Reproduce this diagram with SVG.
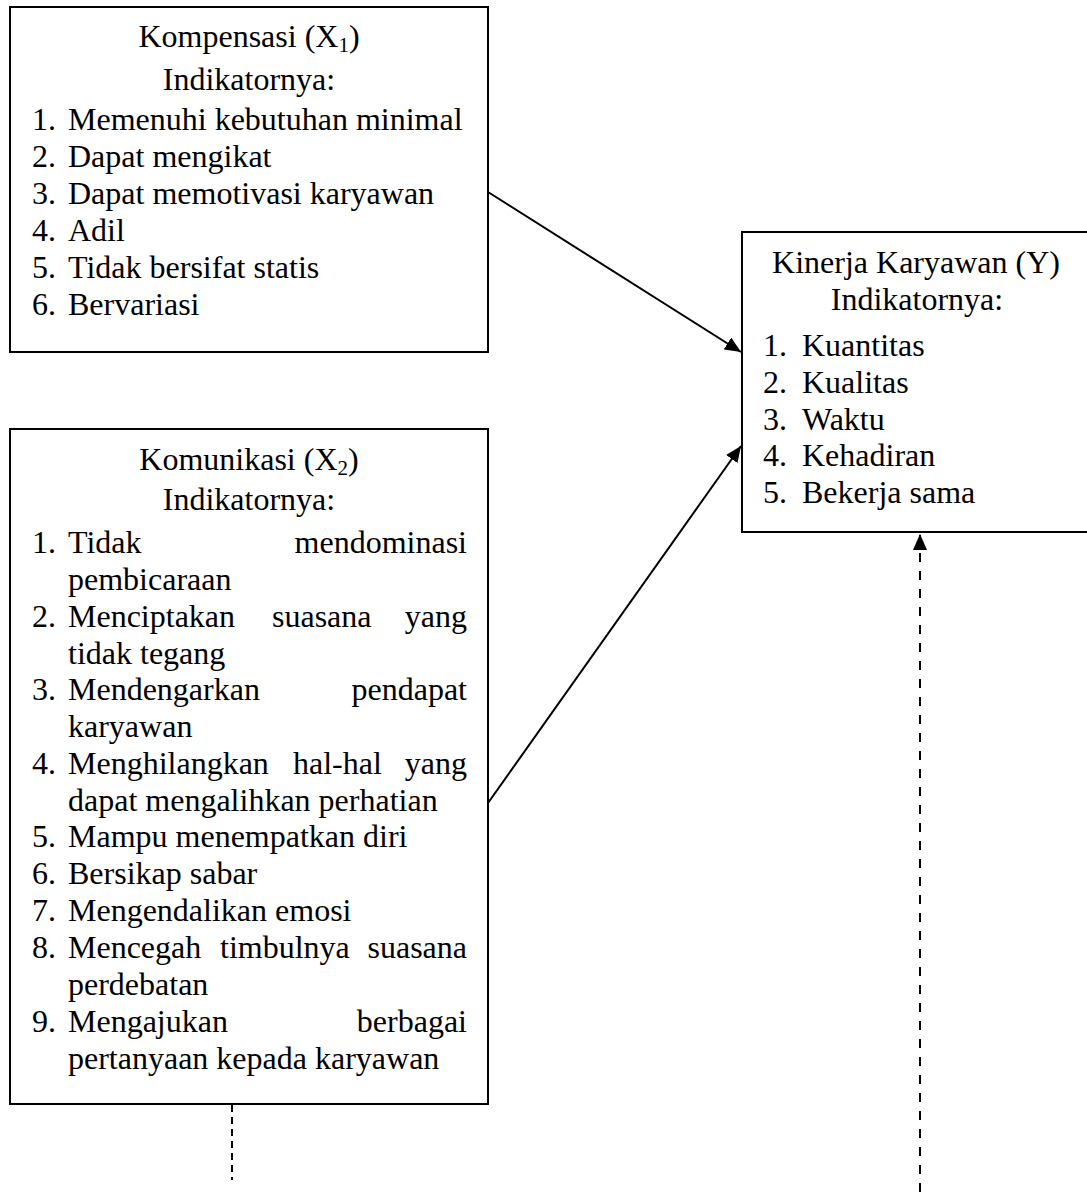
<svg xmlns="http://www.w3.org/2000/svg" width="1087" height="1192" viewBox="0 0 1087 1192">
<defs>
<style>
.box{fill:#fff;stroke:#000;stroke-width:2}
text{font-family:"Liberation Serif","Times New Roman",serif;font-size:32px;fill:#000}
.c{text-anchor:middle}
.e{text-anchor:end}
.sub{font-size:21px}
.conn{stroke:#000;stroke-width:2;fill:none}
</style>
<marker id="ah" markerWidth="16" markerHeight="14" refX="16" refY="7" orient="auto" markerUnits="userSpaceOnUse">
<path d="M0,0 L16,7 L0,14 Z" fill="#000"/>
</marker>
</defs>
<rect width="1087" height="1192" fill="#fff"/>

<g id="connectors">
<line class="conn" x1="488" y1="192" x2="741" y2="352" marker-end="url(#ah)"/>
<line class="conn" x1="488" y1="803" x2="741" y2="446" marker-end="url(#ah)"/>
<line class="conn" x1="920" y1="1192" x2="920" y2="534" stroke-dasharray="9 9" marker-end="url(#ah)"/>
<line class="conn" x1="232" y1="1105" x2="232" y2="1180" stroke-dasharray="7 5"/>
</g>

<g id="kompensasi">
<rect class="box" x="10" y="7" width="478" height="345"/>
<text class="c" x="249" y="47">Kompensasi (X<tspan class="sub" dy="5">1</tspan><tspan dy="-5">)</tspan></text>
<text class="c" x="249" y="90">Indikatornya:</text>
<text x="32" y="130">1.</text><text x="68" y="130">Memenuhi kebutuhan minimal</text>
<text x="32" y="167">2.</text><text x="68" y="167">Dapat mengikat</text>
<text x="32" y="204">3.</text><text x="68" y="204">Dapat memotivasi karyawan</text>
<text x="32" y="241">4.</text><text x="68" y="241">Adil</text>
<text x="32" y="278">5.</text><text x="68" y="278">Tidak bersifat statis</text>
<text x="32" y="315">6.</text><text x="68" y="315">Bervariasi</text>
</g>

<g id="komunikasi">
<rect class="box" x="10" y="429" width="478" height="675"/>
<text class="c" x="249" y="470">Komunikasi (X<tspan class="sub" dy="5">2</tspan><tspan dy="-5">)</tspan></text>
<text class="c" x="249" y="510">Indikatornya:</text>
<text x="32" y="553">1.</text><text x="68" y="553">Tidak</text><text class="e" x="467" y="553">mendominasi</text>
<text x="68" y="590">pembicaraan</text>
<text x="32" y="627">2.</text><text x="68" y="627">Menciptakan</text><text x="272" y="627">suasana</text><text class="e" x="467" y="627">yang</text>
<text x="68" y="664">tidak tegang</text>
<text x="32" y="700">3.</text><text x="68" y="700">Mendengarkan</text><text class="e" x="467" y="700">pendapat</text>
<text x="68" y="737">karyawan</text>
<text x="32" y="774">4.</text><text x="68" y="774">Menghilangkan</text><text x="293" y="774">hal-hal</text><text class="e" x="467" y="774">yang</text>
<text x="68" y="811">dapat mengalihkan perhatian</text>
<text x="32" y="847">5.</text><text x="68" y="847">Mampu menempatkan diri</text>
<text x="32" y="884">6.</text><text x="68" y="884">Bersikap sabar</text>
<text x="32" y="921">7.</text><text x="68" y="921">Mengendalikan emosi</text>
<text x="32" y="958">8.</text><text x="68" y="958">Mencegah</text><text x="220" y="958">timbulnya</text><text class="e" x="467" y="958">suasana</text>
<text x="68" y="995">perdebatan</text>
<text x="32" y="1032">9.</text><text x="68" y="1032">Mengajukan</text><text class="e" x="467" y="1032">berbagai</text>
<text x="68" y="1069">pertanyaan kepada karyawan</text>
</g>

<g id="kinerja">
<rect class="box" x="742" y="232" width="360" height="300"/>
<text class="c" x="916" y="273">Kinerja Karyawan (Y)</text>
<text class="c" x="917" y="310">Indikatornya:</text>
<text x="763" y="356">1.</text><text x="802" y="356">Kuantitas</text>
<text x="763" y="393">2.</text><text x="802" y="393">Kualitas</text>
<text x="763" y="430">3.</text><text x="802" y="430">Waktu</text>
<text x="763" y="466">4.</text><text x="802" y="466">Kehadiran</text>
<text x="763" y="503">5.</text><text x="802" y="503">Bekerja sama</text>
</g>
</svg>
